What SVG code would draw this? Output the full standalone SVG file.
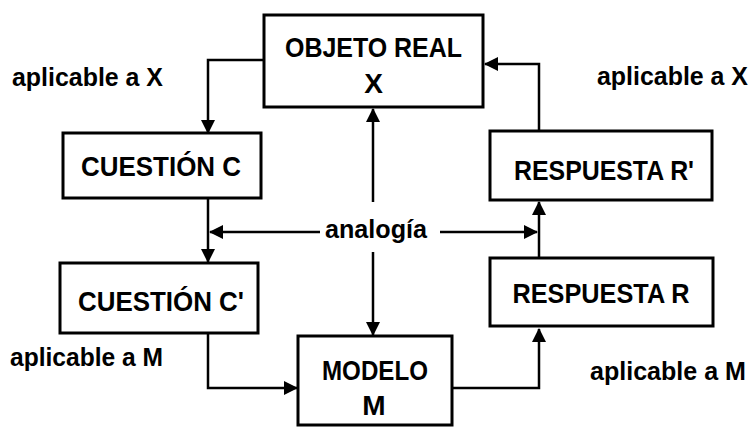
<svg xmlns="http://www.w3.org/2000/svg" width="750" height="430" viewBox="0 0 750 430">
<defs>
<marker id="ah" markerUnits="userSpaceOnUse" markerWidth="14" markerHeight="14" refX="13" refY="7" orient="auto">
<path d="M0,0 L14,7 L0,14 Z" fill="#000"/>
</marker>
<style>
.box{fill:#fff;stroke:#000;stroke-width:3}
.t{font-family:"Liberation Sans",Arial,sans-serif;font-weight:bold;font-size:28px;fill:#000}
.l{font-size:25px}
.c{stroke:#000;stroke-width:2.5;fill:none;marker-end:url(#ah)}
</style>
</defs>
<rect width="750" height="430" fill="#fff"/>
<g id="connectors">
<path class="c" d="M264,60 H208 V133"/>
<path class="c" d="M208,198 V262"/>
<path class="c" d="M320,232 H210"/>
<path class="c" d="M440,232 H537"/>
<path class="c" d="M373,202 V109"/>
<path class="c" d="M373,252 V335"/>
<path class="c" d="M208,333 V388 H297"/>
<path class="c" d="M452,388 H539 V329"/>
<path class="c" d="M539,258 V202"/>
<path class="c" d="M539,131 V64 H485"/>
</g>
<g id="objeto">
<rect class="box" x="264" y="15" width="219" height="92"/>
<text class="t" x="373.5" y="57" text-anchor="middle" textLength="177" lengthAdjust="spacingAndGlyphs">OBJETO REAL</text>
<text class="t" x="373.5" y="93" text-anchor="middle">X</text>
</g>
<g id="cuestionC">
<rect class="box" x="63" y="133" width="198" height="65"/>
<text class="t" x="161" y="176" text-anchor="middle" textLength="160" lengthAdjust="spacingAndGlyphs">CUESTIÓN C</text>
</g>
<g id="cuestionC2">
<rect class="box" x="60" y="263" width="198" height="70"/>
<text class="t" x="161" y="311" text-anchor="middle" textLength="166" lengthAdjust="spacingAndGlyphs">CUESTIÓN C'</text>
</g>
<g id="respuestaR2">
<rect class="box" x="490" y="131" width="222" height="69"/>
<text class="t" x="604" y="180" text-anchor="middle" textLength="180" lengthAdjust="spacingAndGlyphs">RESPUESTA R'</text>
</g>
<g id="respuestaR">
<rect class="box" x="490" y="258" width="223" height="68"/>
<text class="t" x="601" y="303" text-anchor="middle" textLength="177" lengthAdjust="spacingAndGlyphs">RESPUESTA R</text>
</g>
<g id="modelo">
<rect class="box" x="298" y="336" width="154" height="89"/>
<text class="t" x="375" y="380" text-anchor="middle" textLength="106" lengthAdjust="spacingAndGlyphs">MODELO</text>
<text class="t" x="374" y="415" text-anchor="middle">M</text>
</g>
<g id="labels">
<text class="t l" x="12" y="86" textLength="151" lengthAdjust="spacingAndGlyphs">aplicable a X</text>
<text class="t l" x="597" y="85" textLength="151" lengthAdjust="spacingAndGlyphs">aplicable a X</text>
<text class="t l" x="325" y="238" textLength="102" lengthAdjust="spacingAndGlyphs">analogía</text>
<text class="t l" x="10" y="366" textLength="153" lengthAdjust="spacingAndGlyphs">aplicable a M</text>
<text class="t l" x="590" y="380" textLength="156" lengthAdjust="spacingAndGlyphs">aplicable a M</text>
</g>
</svg>
